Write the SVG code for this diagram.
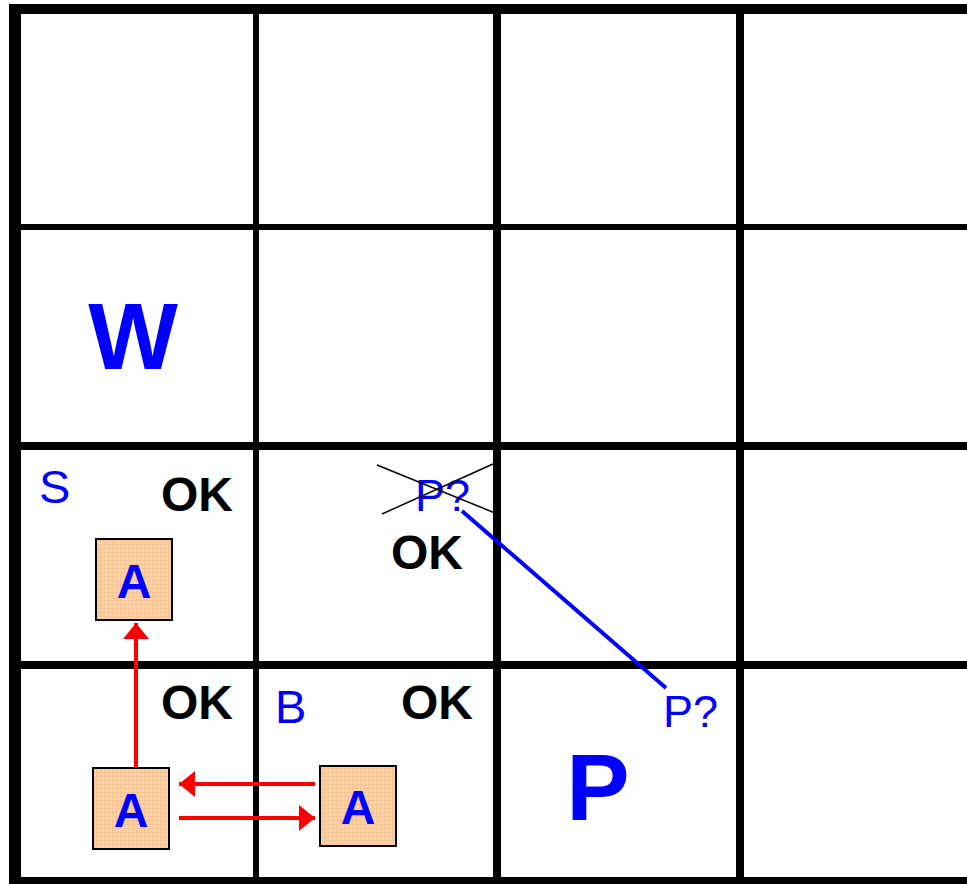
<svg xmlns="http://www.w3.org/2000/svg" width="967" height="884" viewBox="0 0 967 884">
<defs>
<pattern id="tex" width="4" height="4" patternUnits="userSpaceOnUse">
<rect width="4" height="4" fill="#FAD3AA"/>
<path d="M0 0.5H4M0.5 0V4" stroke="#F6C596" stroke-width="1"/>
</pattern>
<marker id="ah" viewBox="0 0 16 26" refX="16" refY="13" markerWidth="16" markerHeight="26" markerUnits="userSpaceOnUse" orient="auto">
<path d="M0 0L16 13L0 26Z" fill="#FF0000"/>
</marker>
<style>
.grid{stroke:#000;fill:none}
.agent rect{fill:url(#tex);stroke:#000;stroke-width:2}
.agent text{font-family:"Liberation Sans",Arial,sans-serif;font-weight:bold;font-size:48px;fill:#0000FF;text-anchor:middle}
.ok{font-family:"Liberation Sans",Arial,sans-serif;font-weight:bold;font-size:48px;fill:#000}
.lbl{font-family:"Liberation Sans",Arial,sans-serif;font-size:45px;fill:#0000FF}
.lbl2{font-family:"Liberation Sans",Arial,sans-serif;font-size:47px;fill:#0000FF}
.big{font-family:"Liberation Sans",Arial,sans-serif;font-weight:bold;font-size:95px;fill:#0000FF;text-anchor:middle}
.move{stroke:#FF0000;stroke-width:4;fill:none;marker-end:url(#ah)}
</style>
</defs>
<rect width="967" height="884" fill="#fff"/>
<g id="grid" class="grid">
<line x1="15" y1="4" x2="15" y2="884" stroke-width="12"/>
<line x1="256" y1="9" x2="256" y2="884" stroke-width="6"/>
<line x1="497" y1="9" x2="497" y2="884" stroke-width="8"/>
<line x1="740" y1="9" x2="740" y2="884" stroke-width="8"/>
<line x1="9" y1="9" x2="967" y2="9" stroke-width="10"/>
<line x1="15" y1="227" x2="967" y2="227" stroke-width="6"/>
<line x1="15" y1="446" x2="967" y2="446" stroke-width="8"/>
<line x1="15" y1="665" x2="967" y2="665" stroke-width="8"/>
<line x1="9" y1="881" x2="967" y2="881" stroke-width="8"/>
</g>
<g id="labels">
<text class="big" x="133" y="369">W</text>
<text class="big" x="598" y="820">P</text>
<text class="lbl2" x="39" y="503">S</text>
<text class="lbl2" x="275" y="723">B</text>
<text class="ok" x="161" y="511">OK</text>
<text class="ok" x="391" y="569">OK</text>
<text class="ok" x="161" y="719">OK</text>
<text class="ok" x="401" y="719">OK</text>
</g>
<g id="pit-guess-crossed">
<text class="lbl" x="415" y="511">P?</text>
<line x1="377" y1="465" x2="495" y2="513" stroke="#000" stroke-width="1.5"/>
<line x1="382" y1="514" x2="493" y2="464" stroke="#000" stroke-width="1.5"/>
</g>
<g id="pit-guess">
<text class="lbl" x="663" y="727">P?</text>
</g>
<g id="agent-1" class="agent">
<rect x="96" y="539" width="76" height="81"/>
<text x="134" y="598">A</text>
</g>
<g id="agent-2" class="agent">
<rect x="93" y="768" width="76" height="81"/>
<text x="131" y="827">A</text>
</g>
<g id="agent-3" class="agent">
<rect x="320" y="766" width="76" height="80"/>
<text x="358" y="824">A</text>
</g>
<g id="connectors">
<line class="move" x1="136" y1="768" x2="136" y2="623"/>
<line class="move" x1="315" y1="784" x2="179" y2="784"/>
<line class="move" x1="179" y1="818" x2="315" y2="818"/>
<line x1="462" y1="511" x2="666" y2="688" stroke="#0000FF" stroke-width="4"/>
</g>
</svg>
